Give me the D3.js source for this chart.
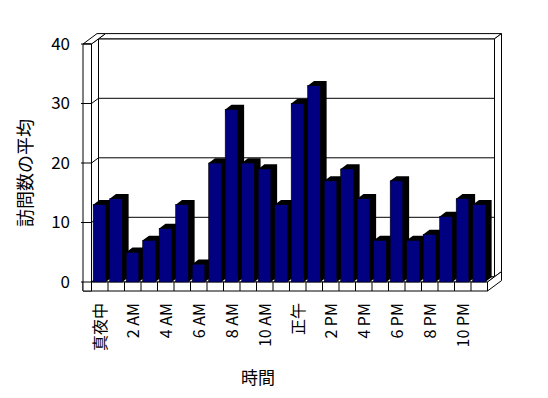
<!DOCTYPE html>
<html>
<head>
<meta charset="utf-8">
<script src="https://cdn.jsdelivr.net/npm/d3@7"></script>
<style>
    body { margin: 0; background: #fff; }
    text { font-family: 'Noto Sans CJK JP', sans-serif; fill: #000; }
</style>
</head>
<body>
<div id="chart"></div>
<script>
// Average visits per hour of day
const hours = d3.range(24);
const visits = [13, 14, 5, 7, 9, 13, 3, 20, 29, 20, 19, 13, 30, 33, 17, 19, 14, 7, 17, 7, 8, 11, 14, 13];
const hourLabels = ['真夜中', '2 AM', '4 AM', '6 AM', '8 AM', '10 AM', '正午', '2 PM', '4 PM', '6 PM', '8 PM', '10 PM'];
const yTicks = [0, 10, 20, 30, 40];

const width = 548,
    height = 398;

// depth vector for the fake 3d look
const dx = 7,
    dy = 5.2;
const wallT = 8.5; // wall / floor thickness
const floorT = 9;

const x = d3.scaleBand().domain(hours).range([91.5, 487.5]);
const y = d3.scaleLinear().domain([0, 40]).range([282, 44]);

const svg = d3
    .select('#chart')
    .append('svg')
    .attr('width', width)
    .attr('height', height);

const x0 = x.range()[0],
    x1 = x.range()[1];
const yb = y(0),
    yt = y(40);
const line = (pts) => 'M' + pts.map((p) => p.join(',')).join('L') + 'Z';

const frame = svg
    .append('g')
    .attr('fill', '#fff')
    .attr('stroke', '#000')
    .attr('stroke-width', 1);

// back wall: front face, top, right side
frame.append('path').attr('d', line([[x0 + dx, yt - dy], [x1 + dx, yt - dy], [x1 + dx, yb - dy], [x0 + dx, yb - dy]]));
frame.append('path').attr('d', line([[x0 + dx, yt - dy], [x1 + dx, yt - dy], [x1 + 2 * dx, yt - 2 * dy], [x0 + 2 * dx, yt - 2 * dy]]));
frame.append('path').attr('d', line([[x1 + dx, yt - dy], [x1 + 2 * dx, yt - 2 * dy], [x1 + 2 * dx, yb - 2 * dy], [x1 + dx, yb - dy]]));

// gridlines on the back wall
svg.append('g')
    .selectAll('line')
    .data(yTicks.slice(1, -1))
    .join('line')
    .attr('x1', x0 + dx)
    .attr('x2', x1 + dx)
    .attr('y1', (d) => y(d) - dy)
    .attr('y2', (d) => y(d) - dy)
    .attr('stroke', '#000');

// floor: top, front, right side
frame.append('path').attr('d', line([[x0, yb], [x1, yb], [x1 + dx, yb - dy], [x0 + dx, yb - dy]]));
frame.append('path').attr('d', line([[x0 - wallT, yb], [x1, yb], [x1, yb + floorT], [x0 - wallT, yb + floorT]]));
frame.append('path').attr('d', line([[x1, yb], [x1 + 2 * dx, yb - 2 * dy], [x1 + 2 * dx, yb + floorT - 2 * dy], [x1, yb + floorT]]));

// category dividers on the floor front
svg.append('g')
    .selectAll('line')
    .data(hours.slice(1))
    .join('line')
    .attr('x1', (d) => x(d))
    .attr('x2', (d) => x(d))
    .attr('y1', yb)
    .attr('y2', yb + floorT)
    .attr('stroke', '#000');

// left wall: inner face, top, front
frame.append('path').attr('d', line([[x0, yt], [x0 + dx, yt - dy], [x0 + dx, yb - dy], [x0, yb]]));
frame.append('path').attr('d', line([[x0 - wallT, yt], [x0, yt], [x0 + 2 * dx, yt - 2 * dy], [x0 - wallT + 2 * dx, yt - 2 * dy]]));
frame.append('path').attr('d', line([[x0 - wallT, yt], [x0, yt], [x0, yb + floorT], [x0 - wallT, yb + floorT]]));

// gridlines across the left wall and tick marks on its front
svg.append('g')
    .selectAll('path')
    .data(yTicks.slice(1, -1))
    .join('path')
    .attr('d', (d) => `M${x0},${y(d)}L${x0 + dx},${y(d) - dy}`)
    .attr('stroke', '#000')
    .attr('fill', 'none');
svg.append('g')
    .selectAll('line')
    .data(yTicks)
    .join('line')
    .attr('x1', x0 - wallT - 2)
    .attr('x2', x0)
    .attr('y1', (d) => y(d))
    .attr('y2', (d) => y(d))
    .attr('stroke', '#000');

// bars
const bw = 12.6,
    bOff = 1.7,
    bd = 0.9;
const bars = svg
    .append('g')
    .selectAll('g')
    .data(hours)
    .join('g');
bars.append('path')
    .attr('fill', '#000')
    .attr('d', (d) => {
        const l = x(d) + bOff,
            r = l + bw,
            t = y(visits[d]);
        return line([[l, t], [l + bd * dx, t - bd * dy], [r + bd * dx, t - bd * dy], [r + bd * dx, yb - bd * dy], [r, yb]]);
    });
bars.append('rect')
    .attr('x', (d) => x(d) + bOff)
    .attr('y', (d) => y(visits[d]))
    .attr('width', bw)
    .attr('height', (d) => yb - y(visits[d]))
    .attr('fill', '#000080')
    .attr('stroke', '#000')
    .attr('stroke-width', 0.6);

// y axis labels
const yAxis = svg
    .append('g')
    .attr('transform', `translate(${x0 - wallT},0)`)
    .call(d3.axisLeft(y).tickValues(yTicks).tickSize(0).tickPadding(13));
yAxis.select('.domain').remove();
yAxis.selectAll('text').attr('font-size', 17).attr('font-family', null);

// x axis labels, every other hour, rotated
svg.append('g')
    .selectAll('text')
    .data(hourLabels)
    .join('text')
    .attr('transform', (d, i) => `translate(${x(i * 2) + x.bandwidth() / 2 + 6},303) rotate(-90)`)
    .attr('text-anchor', 'end')
    .attr('font-size', 16)
    .text((d) => d);

// axis titles
svg.append('text')
    .attr('x', 258)
    .attr('y', 384)
    .attr('text-anchor', 'middle')
    .attr('font-size', 17)
    .text('時間');

svg.append('text')
    .attr('transform', 'translate(32,173) rotate(-90)')
    .attr('text-anchor', 'middle')
    .attr('font-size', 18)
    .text('訪問数の平均');
</script>
</body>
</html>
